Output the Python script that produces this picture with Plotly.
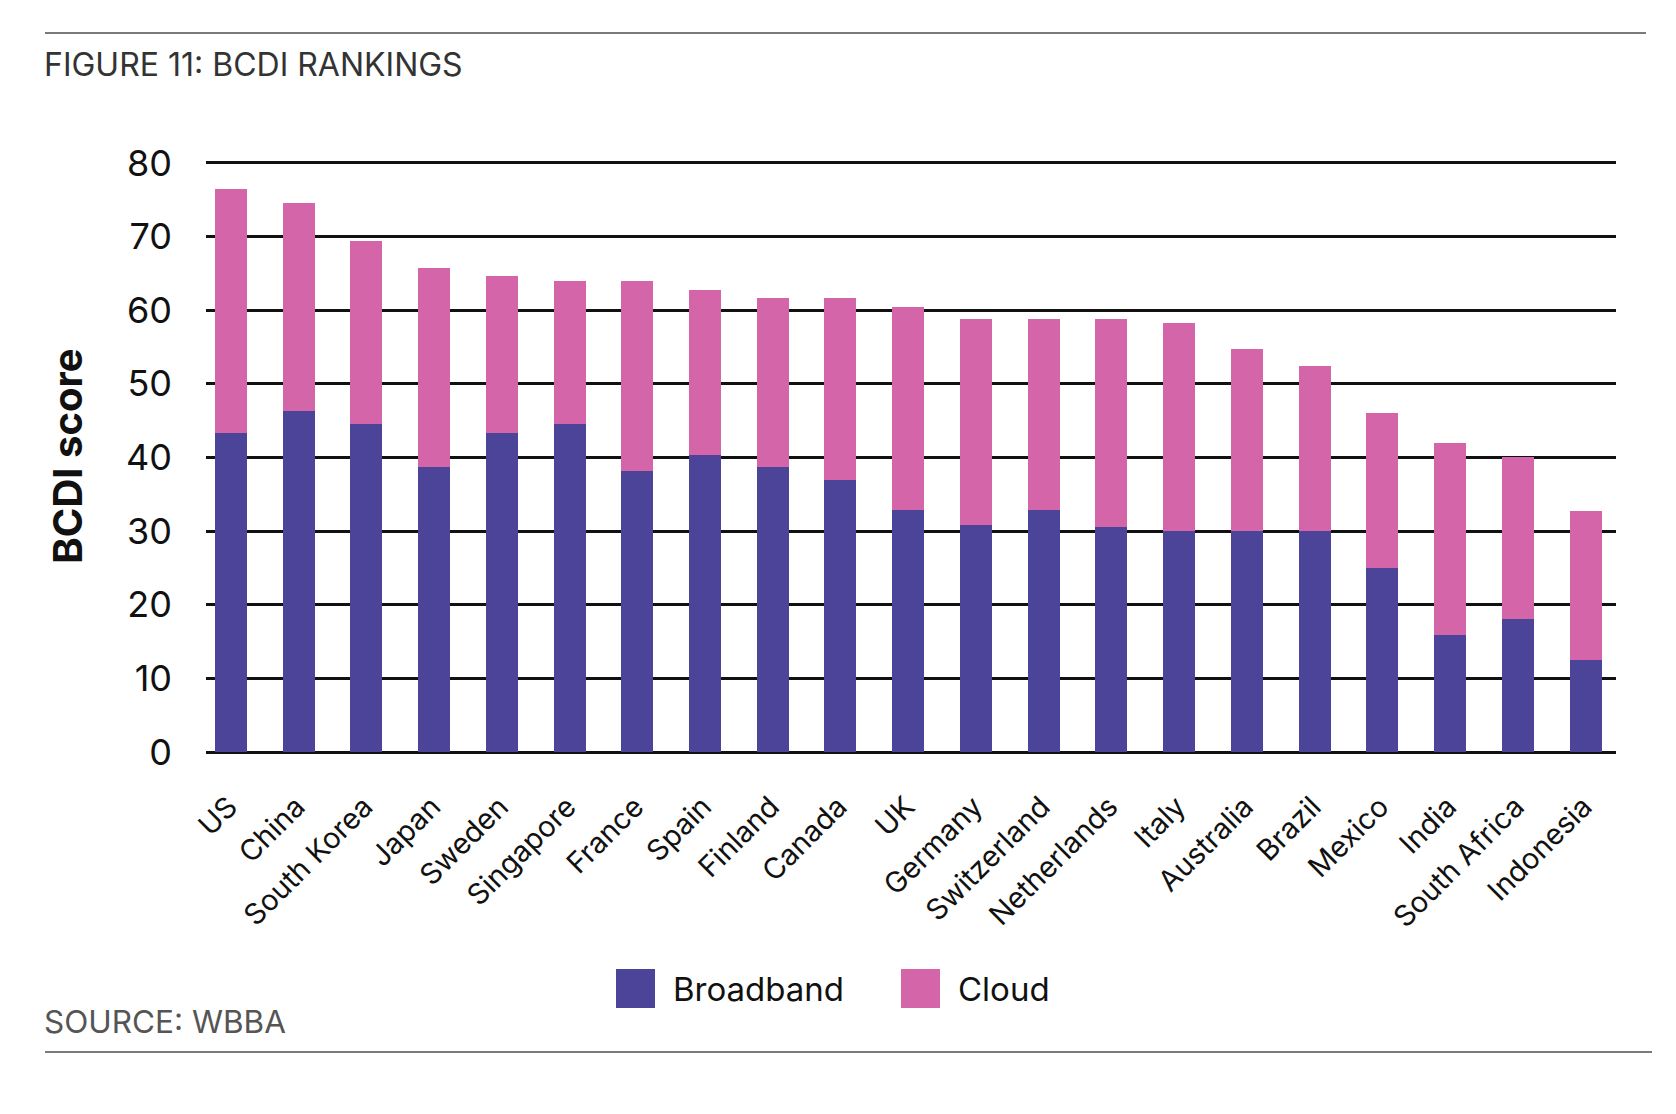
import plotly.graph_objects as go

countries = ["US", "China", "South Korea", "Japan", "Sweden", "Singapore", "France",
             "Spain", "Finland", "Canada", "UK", "Germany", "Switzerland", "Netherlands",
             "Italy", "Australia", "Brazil", "Mexico", "India", "South Africa", "Indonesia"]
broadband = [43.3, 46.3, 44.5, 38.7, 43.3, 44.5, 38.1, 40.4, 38.7, 36.9, 32.9, 30.8,
             32.9, 30.5, 30.0, 30.0, 30.0, 25.0, 15.9, 18.0, 12.5]
cloud = [33.1, 28.3, 24.9, 27.0, 21.3, 19.5, 25.9, 22.4, 23.0, 24.8, 27.6, 28.0,
         25.9, 28.3, 28.2, 24.7, 22.4, 21.1, 26.0, 22.0, 20.2]
y_ticks = [0, 10, 20, 30, 40, 50, 60, 70, 80]

BB_COLOR = "#4B4499"
CL_COLOR = "#D465A8"
FONT = "Inter"

# page offset compensation (body margin)
OFF = 8
PL, PT, PW, PH = 206 - OFF, 160 - OFF, 1410, 592


def px(x):
    return (x - OFF - PL) / PW


def py(y):
    return (PT + PH - (y - OFF)) / PH


fig = go.Figure()
fig.add_trace(go.Bar(x=countries, y=broadband, name="Broadband",
                     marker=dict(color=BB_COLOR, line=dict(width=0))))
fig.add_trace(go.Bar(x=countries, y=cloud, name="Cloud",
                     marker=dict(color=CL_COLOR, line=dict(width=0))))

fig.update_layout(
    width=1676, height=1114,
    barmode="stack", bargap=0.527,
    showlegend=False,
    plot_bgcolor="white", paper_bgcolor="white",
    margin=dict(l=PL, r=1676 - PL - PW, t=PT, b=1114 - PT - PH),
    font=dict(family=FONT, color="#111111"),
)
fig.update_yaxes(
    range=[0, 80.4], tickvals=y_ticks, showgrid=True, gridcolor="#111111", gridwidth=2.5,
    zeroline=True, zerolinecolor="#111111", zerolinewidth=3,
    tickfont=dict(size=36, color="#111111", family=FONT), ticklabelstandoff=33,
    title=dict(text="<b>BCDI score</b>", font=dict(size=40, color="#111111", family=FONT), standoff=31),
    showline=False, fixedrange=True,
)
fig.update_xaxes(
    range=[-0.367, 20.45],
    tickangle=-45, tickfont=dict(size=29, color="#111111", family=FONT),
    ticklabelstandoff=31, ticklabelshift=-2, showgrid=False, showline=False,
)

# frame lines, title and source
fig.add_shape(type="line", xref="paper", yref="paper",
              x0=px(45), x1=px(1646), y0=py(33), y1=py(33),
              line=dict(color="#7a7a7a", width=2))
fig.add_shape(type="line", xref="paper", yref="paper",
              x0=px(45), x1=px(1652), y0=py(1052), y1=py(1052),
              line=dict(color="#7a7a7a", width=2))
fig.add_annotation(text="FIGURE 11: BCDI RANKINGS", xref="paper", yref="paper",
                   x=px(42), y=py(64), xanchor="left", yanchor="middle",
                   showarrow=False, font=dict(size=32, color="#333333", family=FONT))
fig.add_annotation(text="SOURCE: WBBA", xref="paper", yref="paper",
                   x=px(42), y=py(1021), xanchor="left", yanchor="middle",
                   showarrow=False, font=dict(size=31.5, color="#555555", family=FONT))

# legend
legend_items = [("Broadband", BB_COLOR, 616), ("Cloud", CL_COLOR, 901)]
for name, col, lx in legend_items:
    fig.add_shape(type="rect", xref="paper", yref="paper",
                  x0=px(lx), x1=px(lx + 39), y0=py(1008), y1=py(969),
                  fillcolor=col, line=dict(width=0))
    fig.add_annotation(text=name, xref="paper", yref="paper",
                       x=px(lx + 55), y=py(989),
                       xanchor="left", yanchor="middle", showarrow=False,
                       font=dict(size=33, color="#111111", family=FONT))

fig.write_html("out.html")
